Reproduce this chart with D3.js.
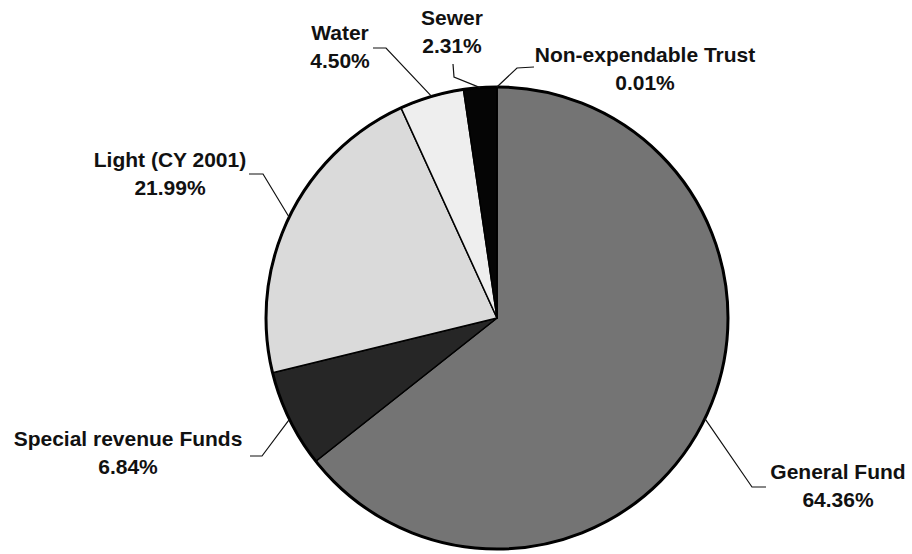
<!DOCTYPE html>
<html>
<head>
<meta charset="utf-8">
<script src="https://cdn.jsdelivr.net/npm/d3@7/dist/d3.min.js"></script>
<style>
  html, body { margin: 0; padding: 0; background: #ffffff; }
  svg { display: block; }
  text { font-family: "Liberation Sans", Arial, Helvetica, sans-serif; font-weight: bold; fill: #111; }
</style>
</head>
<body>
<svg id="chart" width="912" height="554"></svg>
<script>
// ---- data ----
const categories = ["General Fund", "Special revenue Funds", "Light (CY 2001)", "Water", "Sewer", "Non-expendable Trust"];
const values = [64.36, 6.84, 21.99, 4.50, 2.31, 0.01];
const valueLabels = ["64.36%", "6.84%", "21.99%", "4.50%", "2.31%", "0.01%"];
const fills = ["#747474", "#262626", "#dadada", "#eeeeee", "#050505", "#3a3a3a"];

// label layout: text anchor point and leader elbow points
const labelPos = [
  { x: 838, y: 479, elbow: [[766, 487], [752, 487]] },
  { x: 128, y: 446, elbow: [[250, 456], [262, 456]] },
  { x: 170, y: 167, elbow: [[249, 174], [263, 174]] },
  { x: 340, y: 40,  elbow: [[373, 48], [386, 48]] },
  { x: 452, y: 25,  elbow: [[453, 64], [454, 77]] },
  { x: 645, y: 62,  elbow: [[534, 67], [517, 68]] }
];

const svg = d3.select("#chart");
const cx = 497, cy = 318, R = 231;

const data = categories.map((c, i) => ({ name: c, value: values[i], label: valueLabels[i], fill: fills[i], pos: labelPos[i] }));

const pie = d3.pie().value(d => d.value).sort(null).startAngle(0).endAngle(2 * Math.PI);
const arcs = pie(data);
const arc = d3.arc().innerRadius(0).outerRadius(R);
const edgeArc = d3.arc().innerRadius(R).outerRadius(R);

const g = svg.append("g").attr("transform", `translate(${cx},${cy})`);

g.selectAll("path.slice")
  .data(arcs)
  .join("path")
  .attr("class", "slice")
  .attr("d", arc)
  .attr("fill", d => d.data.fill)
  .attr("stroke", "#000")
  .attr("stroke-width", 1.5)
  .attr("stroke-linejoin", "round");

// outer rim
g.append("circle").attr("r", R).attr("fill", "none").attr("stroke", "#000").attr("stroke-width", 3);

// leader lines
const line = d3.line();
svg.selectAll("path.leader")
  .data(arcs)
  .join("path")
  .attr("class", "leader")
  .attr("d", d => {
    const c = edgeArc.centroid(d);
    const end = [cx + c[0], cy + c[1]];
    return line([...d.data.pos.elbow, end]);
  })
  .attr("fill", "none")
  .attr("stroke", "#111")
  .attr("stroke-width", 1.2);

// labels
const lab = svg.selectAll("text.lab")
  .data(arcs)
  .join("text")
  .attr("class", "lab")
  .attr("text-anchor", "middle")
  .style("font-size", "21px");
lab.append("tspan").attr("x", d => d.data.pos.x).attr("y", d => d.data.pos.y).text(d => d.data.name);
lab.append("tspan").attr("x", d => d.data.pos.x).attr("y", d => d.data.pos.y + 28).text(d => d.data.label);
</script>
</body>
</html>
